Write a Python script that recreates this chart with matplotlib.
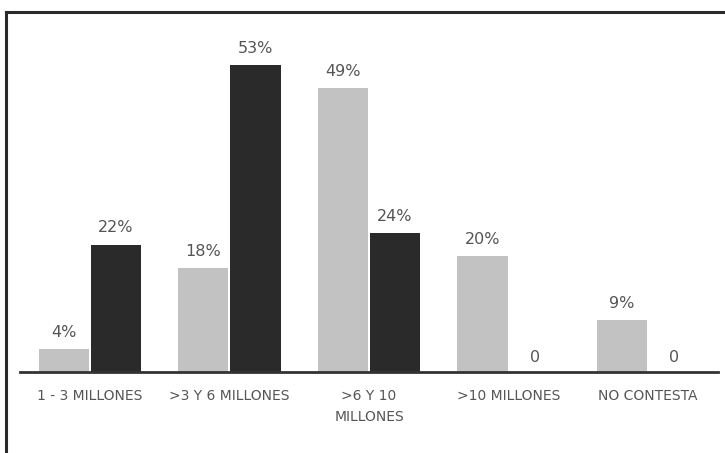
import numpy as np
import matplotlib.pyplot as plt
from matplotlib.lines import Line2D

plt.rcParams['font.family'] = ['Liberation Sans Narrow', 'DejaVu Sans']

categorias = ["1 - 3 MILLONES", ">3 Y 6 MILLONES", ">6 Y 10\nMILLONES",
              ">10 MILLONES", "NO CONTESTA"]
serie_clara = [4, 18, 49, 20, 9]
serie_oscura = [22, 53, 24, 0, 0]

x = np.arange(len(categorias))
w = 0.36

fig = plt.figure(figsize=(7.25, 4.53), dpi=100)
ax = fig.add_axes([20 / 725, 81 / 453, 698 / 725, 352 / 453])

b1 = ax.bar(x - w / 2 - 0.007, serie_clara, w, color="#c2c2c2")
b2 = ax.bar(x + w / 2 + 0.007, serie_oscura, w, color="#2a2a2a")

for bars, vals in ((b1, serie_clara), (b2, serie_oscura)):
    for b, v in zip(bars, vals):
        txt = f"{v}%" if v else "0"
        off = 1.6 if v else 1.2
        ax.text(b.get_x() + b.get_width() / 2, v + off, txt,
                ha="center", va="bottom", fontsize=11.5, color="#555555")

ax.set_xlim(-0.5, 4.5)
ax.set_ylim(0, 60.8)
ax.set_xticks(x)
ax.set_xticklabels(categorias, fontsize=10, color="#555555", linespacing=1.7)
ax.tick_params(axis="x", length=0, pad=12)
ax.set_yticks([])
for s in ("top", "right", "left"):
    ax.spines[s].set_visible(False)
ax.spines["bottom"].set_color("#333333")
ax.spines["bottom"].set_linewidth(2)

# marco del recorte
fig.add_artist(Line2D([6 / 725, 6 / 725], [0, 441 / 453], color="#2a2a2a", lw=2.2))
fig.add_artist(Line2D([6 / 725, 1], [441 / 453, 441 / 453], color="#2a2a2a", lw=2.2))

fig.savefig("out.png", dpi=100)
